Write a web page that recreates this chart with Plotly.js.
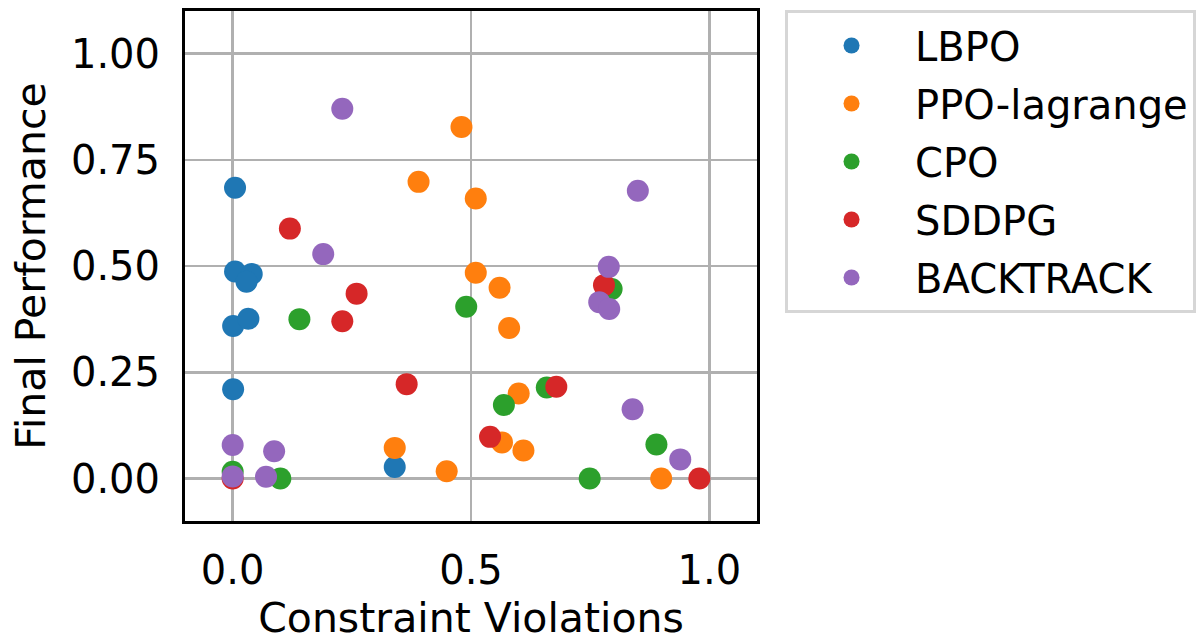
<!DOCTYPE html>
<html>
<head>
<meta charset="utf-8">
<script src="https://cdn.plot.ly/plotly-3.0.1.min.js"></script>
<style>html,body{margin:0;padding:0;background:#fff;}#chart{width:1203px;height:642px;}</style>
</head>
<body>
<div id="chart"></div>
<script>
const seriesNames = ["LBPO", "PPO-lagrange", "CPO", "SDDPG", "BACKTRACK"];
const seriesColors = ["#1f77b4", "#ff7f0e", "#2ca02c", "#d62728", "#9467bd"];

const lbpoX = [0.005, 0.005, 0.040, 0.029, 0.001, 0.033, 0.001, 0.340];
const lbpoY = [0.684, 0.487, 0.481, 0.463, 0.359, 0.376, 0.210, 0.027];

const ppoX = [0.480, 0.390, 0.510, 0.510, 0.560, 0.580, 0.600, 0.340, 0.449, 0.565, 0.610, 0.899];
const ppoY = [0.827, 0.698, 0.659, 0.484, 0.449, 0.354, 0.200, 0.072, 0.017, 0.085, 0.066, 0.000];

const cpoX = [0.140, 0.490, 0.000, 0.100, 0.569, 0.659, 0.795, 0.889, 0.749];
const cpoY = [0.375, 0.404, 0.016, 0.000, 0.173, 0.214, 0.446, 0.080, 0.000];

const sddpgX = [0.120, 0.260, 0.230, 0.365, 0.000, 0.779, 0.679, 0.540, 0.979];
const sddpgY = [0.588, 0.435, 0.370, 0.222, 0.000, 0.455, 0.216, 0.098, 0.000];

const backX = [0.230, 0.190, 0.850, 0.789, 0.000, 0.087, 0.000, 0.070, 0.769, 0.790, 0.839, 0.939];
const backY = [0.870, 0.528, 0.677, 0.498, 0.079, 0.064, 0.005, 0.004, 0.415, 0.399, 0.163, 0.045];

const xTickVals = [0.0, 0.5, 1.0];
const xTickText = ["0.0", "0.5", "1.0"];
const yTickVals = [0.0, 0.25, 0.5, 0.75, 1.0];
const yTickText = ["0.00", "0.25", "0.50", "0.75", "1.00"];

const xs = [lbpoX, ppoX, cpoX, sddpgX, backX];
const ys = [lbpoY, ppoY, cpoY, sddpgY, backY];

const FONT = "DejaVu Sans, sans-serif";

const data = seriesNames.map((n, i) => ({
  type: "scatter",
  mode: "markers",
  name: n,
  legendgroup: "g" + i,
  x: xs[i],
  y: ys[i],
  marker: {color: seriesColors[i], size: 22, line: {width: 0}},
  cliponaxis: true
}));

const axisCommon = {
  showline: true, mirror: true, linecolor: "#000", linewidth: 3,
  showgrid: true, gridcolor: "#b0b0b0", gridwidth: 2.5,
  zeroline: false, ticks: "",
  tickfont: {family: FONT, size: 40, color: "#000"},
  fixedrange: true
};

const layout = {
  width: 1203, height: 642,
  margin: {l: 185, r: 446, t: 11, b: 121, pad: 0, autoexpand: false},
  paper_bgcolor: "#fff", plot_bgcolor: "#fff",
  font: {family: FONT, color: "#000"},
  showlegend: true,
  xaxis: Object.assign({}, axisCommon, {
    range: [-0.1, 1.1], tickvals: xTickVals, ticktext: xTickText,
    ticklabelstandoff: 12,
    title: {text: "Constraint Violations", font: {family: FONT, size: 41, color: "#000"}, standoff: 18}
  }),
  yaxis: Object.assign({}, axisCommon, {
    range: [-0.1, 1.1], tickvals: yTickVals, ticktext: yTickText,
    ticklabelstandoff: 14,
    title: {text: "Final Performance", font: {family: FONT, size: 41, color: "#000"}, standoff: 13}
  }),
  legend: {
    x: 1.049, y: 1.002, xanchor: "left", yanchor: "top",
    bgcolor: "#fff", bordercolor: "#d6d6d6", borderwidth: 3,
    font: {family: FONT, size: 40, color: "#000"},
    itemwidth: 117,
    tracegroupgap: 3
  }
};

Plotly.newPlot("chart", data, layout, {displayModeBar: false, staticPlot: true});
</script>
</body>
</html>
